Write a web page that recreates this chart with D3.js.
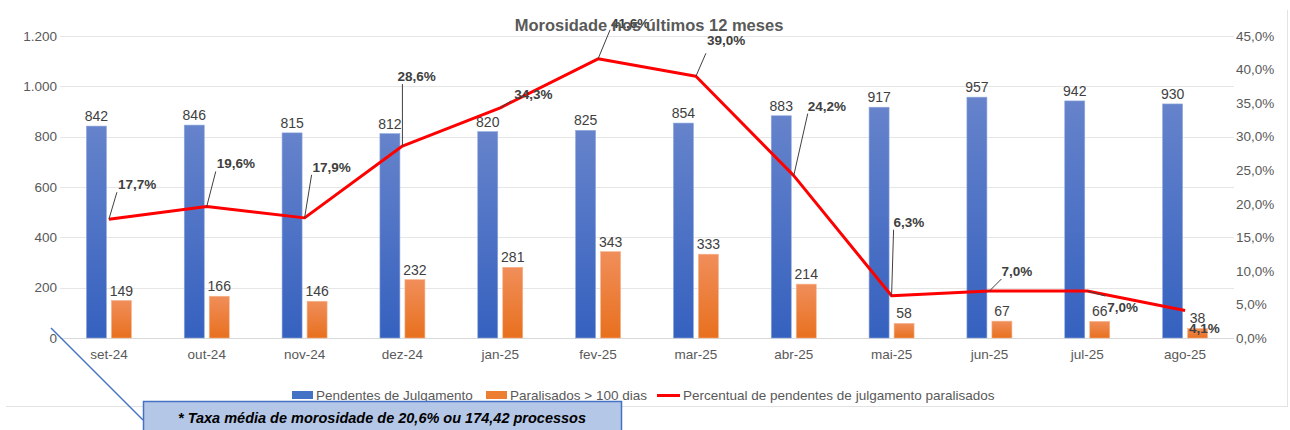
<!DOCTYPE html>
<html>
<head>
<meta charset="utf-8">
<script src="https://cdn.jsdelivr.net/npm/d3@7"></script>
<style>
  html, body { margin: 0; padding: 0; background: #ffffff; }
  svg { display: block; font-family: Arial, "Liberation Sans", sans-serif; }
</style>
</head>
<body>
<svg id="chart" width="1290" height="430"></svg>
<script>
// ---- data ----
const categories = ["set-24","out-24","nov-24","dez-24","jan-25","fev-25","mar-25","abr-25","mai-25","jun-25","jul-25","ago-25"];
const pendentes = [842, 846, 815, 812, 820, 825, 854, 883, 917, 957, 942, 930];
const paralisados = [149, 166, 146, 232, 281, 343, 333, 214, 58, 67, 66, 38];
const percentual = [17.7, 19.6, 17.9, 28.6, 34.3, 41.6, 39.0, 24.2, 6.3, 7.0, 7.0, 4.1];
const leftTicks = [0, 200, 400, 600, 800, 1000, 1200];
const rightTicks = [0, 5, 10, 15, 20, 25, 30, 35, 40, 45];
const seriesNames = ["Pendentes de Julgamento", "Paralisados > 100 dias", "Percentual de pendentes de julgamento paralisados"];
const titleText = "Morosidade nos últimos 12 meses";
const noteText = "* Taxa média de morosidade de 20,6% ou 174,42 processos";

// ---- label layout (pixel offsets from each line point) ----
const pctLabelLayout = [
  {dx: 9, dy: -30, lx: 8, ly: -27},
  {dx: 10, dy: -38, lx: 9, ly: -35},
  {dx: 8, dy: -46, lx: 7, ly: -43},
  {dx: -5, dy: -65, lx: 0, ly: -62},
  {dx: 14, dy: -9, lx: 11, ly: -7},
  {dx: 13, dy: -31, lx: 12, ly: -29},
  {dx: 11, dy: -31, lx: 10, ly: -23},
  {dx: 14, dy: -65, lx: 14, ly: -62},
  {dx: 2, dy: -69, lx: 2, ly: -66},
  {dx: 12, dy: -15, lx: 12, ly: -12},
  {dx: 20, dy: 21, lx: 18, ly: 5},
  {dx: 4, dy: 23, lx: null, ly: null}
];

const loc = d3.formatLocale({decimal: ",", thousands: ".", grouping: [3], currency: ["R$", ""]});
const fmtInt = loc.format(",d");
const fmtPct = d => loc.format(".1f")(d) + "%";

const svg = d3.select("#chart");
const W = 1290, H = 430;
const plot = {left: 60, right: 1234, top: 36, bottom: 338};

const x = d3.scaleBand().domain(categories).range([plot.left, plot.right]).paddingInner(0).paddingOuter(0);
const xs = d3.scaleBand().domain(["p", "q"]).range([-22.5, 22.5]).paddingInner(0.2);
const yL = d3.scaleLinear().domain([0, 1200]).range([plot.bottom, plot.top]);
const yR = d3.scaleLinear().domain([0, 45]).range([plot.bottom, plot.top]);

// gradients
const defs = svg.append("defs");
const gB = defs.append("linearGradient").attr("id", "gBlue").attr("x1", 0).attr("y1", 0).attr("x2", 0).attr("y2", 1);
gB.append("stop").attr("offset", "0%").attr("stop-color", "#6683cb");
gB.append("stop").attr("offset", "100%").attr("stop-color", "#3561bf");
const gO = defs.append("linearGradient").attr("id", "gOrange").attr("x1", 0).attr("y1", 0).attr("x2", 0).attr("y2", 1);
gO.append("stop").attr("offset", "0%").attr("stop-color", "#f08e5a");
gO.append("stop").attr("offset", "100%").attr("stop-color", "#e8701e");

// outer frame (right + bottom)
svg.append("line").attr("x1", 6).attr("x2", 1288).attr("y1", 406.5).attr("y2", 406.5).attr("stroke", "#e3e3e3").attr("stroke-width", 1);
svg.append("line").attr("x1", 1287.5).attr("x2", 1287.5).attr("y1", 10).attr("y2", 407).attr("stroke", "#e3e3e3").attr("stroke-width", 1);

// gridlines
svg.append("g").selectAll("line").data(leftTicks).join("line")
  .attr("x1", plot.left).attr("x2", plot.right)
  .attr("y1", d => Math.round(yL(d)) + 0.5).attr("y2", d => Math.round(yL(d)) + 0.5)
  .attr("stroke", d => d === 0 ? "#d9d9d9" : "#e6e6e6").attr("stroke-width", 1.2);

// left axis
const axL = svg.append("g").attr("transform", `translate(${plot.left - 3},0)`)
  .call(d3.axisLeft(yL).tickValues(leftTicks).tickFormat(fmtInt).tickSize(0).tickPadding(0));
axL.select(".domain").remove();
axL.selectAll("text").attr("fill", "#595959").style("font-size", "13.5px").style("font-family", "Arial, 'Liberation Sans', sans-serif");

// right axis
const axR = svg.append("g").attr("transform", `translate(1236,0)`)
  .call(d3.axisRight(yR).tickValues(rightTicks).tickFormat(fmtPct).tickSize(0).tickPadding(0));
axR.select(".domain").remove();
axR.selectAll("text").attr("fill", "#595959").style("font-size", "13.5px").style("font-family", "Arial, 'Liberation Sans', sans-serif");

// x axis
const axX = svg.append("g").attr("transform", `translate(0,${plot.bottom})`)
  .call(d3.axisBottom(x).tickSize(0).tickPadding(11));
axX.select(".domain").remove();
axX.selectAll("text").attr("fill", "#595959").style("font-size", "13.5px").style("font-family", "Arial, 'Liberation Sans', sans-serif");

// bars
const cx = c => x(c) + x.bandwidth() / 2;
svg.append("g").selectAll("rect").data(categories).join("rect")
  .attr("x", (c) => cx(c) + xs("p")).attr("width", xs.bandwidth())
  .attr("y", (c, i) => yL(pendentes[i])).attr("height", (c, i) => yL(0) - yL(pendentes[i]))
  .attr("fill", "url(#gBlue)").attr("stroke", "#8fa8dc").attr("stroke-width", 0.6);
svg.append("g").selectAll("rect").data(categories).join("rect")
  .attr("x", (c) => cx(c) + xs("q")).attr("width", xs.bandwidth())
  .attr("y", (c, i) => yL(paralisados[i])).attr("height", (c, i) => yL(0) - yL(paralisados[i]))
  .attr("fill", "url(#gOrange)").attr("stroke", "#f6b48c").attr("stroke-width", 0.6);

// bar value labels
svg.append("g").selectAll("text").data(categories).join("text")
  .attr("x", c => cx(c) + xs("p") + xs.bandwidth() / 2)
  .attr("y", (c, i) => yL(pendentes[i]) - 5)
  .attr("text-anchor", "middle").attr("fill", "#404040").style("font-size", "14px")
  .text((c, i) => fmtInt(pendentes[i]));
svg.append("g").selectAll("text").data(categories).join("text")
  .attr("x", c => cx(c) + xs("q") + xs.bandwidth() / 2)
  .attr("y", (c, i) => yL(paralisados[i]) - 5)
  .attr("text-anchor", "middle").attr("fill", "#404040").style("font-size", "14px")
  .text((c, i) => fmtInt(paralisados[i]));

// line
const line = d3.line().x((d, i) => cx(categories[i])).y(d => yR(d));
svg.append("path").datum(percentual).attr("d", line)
  .attr("fill", "none").attr("stroke", "#ff0000").attr("stroke-width", 3).attr("stroke-linejoin", "round");

// leader lines
svg.append("g").selectAll("line").data(percentual.map((v, i) => ({v, i})).filter(d => pctLabelLayout[d.i].lx !== null)).join("line")
  .attr("x1", d => cx(categories[d.i])).attr("y1", d => yR(d.v))
  .attr("x2", d => cx(categories[d.i]) + pctLabelLayout[d.i].lx)
  .attr("y2", d => yR(d.v) + pctLabelLayout[d.i].ly)
  .attr("stroke", "#404040").attr("stroke-width", 1);

// pct labels
svg.append("g").selectAll("text").data(percentual).join("text")
  .attr("x", (d, i) => cx(categories[i]) + pctLabelLayout[i].dx)
  .attr("y", (d, i) => yR(d) + pctLabelLayout[i].dy)
  .attr("fill", "#404040").style("font-size", "13.5px").style("font-weight", "bold")
  .text(d => fmtPct(d));

// title
svg.append("text").attr("x", 649).attr("y", 31).attr("text-anchor", "middle")
  .attr("fill", "#595959").style("font-size", "16.5px").style("font-weight", "bold")
  .text(titleText);

// legend
const lg = svg.append("g").attr("transform", "translate(0,395)");
lg.append("rect").attr("x", 292).attr("y", -4).attr("width", 21).attr("height", 8).attr("fill", "#4472c4");
lg.append("text").attr("x", 316).attr("y", 5).attr("fill", "#595959").style("font-size", "13.5px").text(seriesNames[0]);
lg.append("rect").attr("x", 486).attr("y", -4).attr("width", 21).attr("height", 8).attr("fill", "#ed7d31");
lg.append("text").attr("x", 510).attr("y", 5).attr("fill", "#595959").style("font-size", "13.5px").text(seriesNames[1]);
lg.append("line").attr("x1", 657).attr("x2", 680).attr("y1", 0.5).attr("y2", 0.5).attr("stroke", "#ff0000").attr("stroke-width", 3);
lg.append("text").attr("x", 683).attr("y", 5).attr("fill", "#595959").style("font-size", "13.5px").text(seriesNames[2]);

// note callout
svg.append("line").attr("x1", 51).attr("y1", 328).attr("x2", 143).attr("y2", 420)
  .attr("stroke", "#4472c4").attr("stroke-width", 1.5);
svg.append("rect").attr("x", 143.5).attr("y", 401.5).attr("width", 478).attr("height", 40)
  .attr("fill", "#b4c7e7").attr("stroke", "#4472c4").attr("stroke-width", 1.5);
svg.append("text").attr("x", 382).attr("y", 423).attr("text-anchor", "middle")
  .attr("fill", "#000000").style("font-size", "14.5px").style("font-weight", "bold").style("font-style", "italic")
  .text(noteText);
</script>
</body>
</html>
